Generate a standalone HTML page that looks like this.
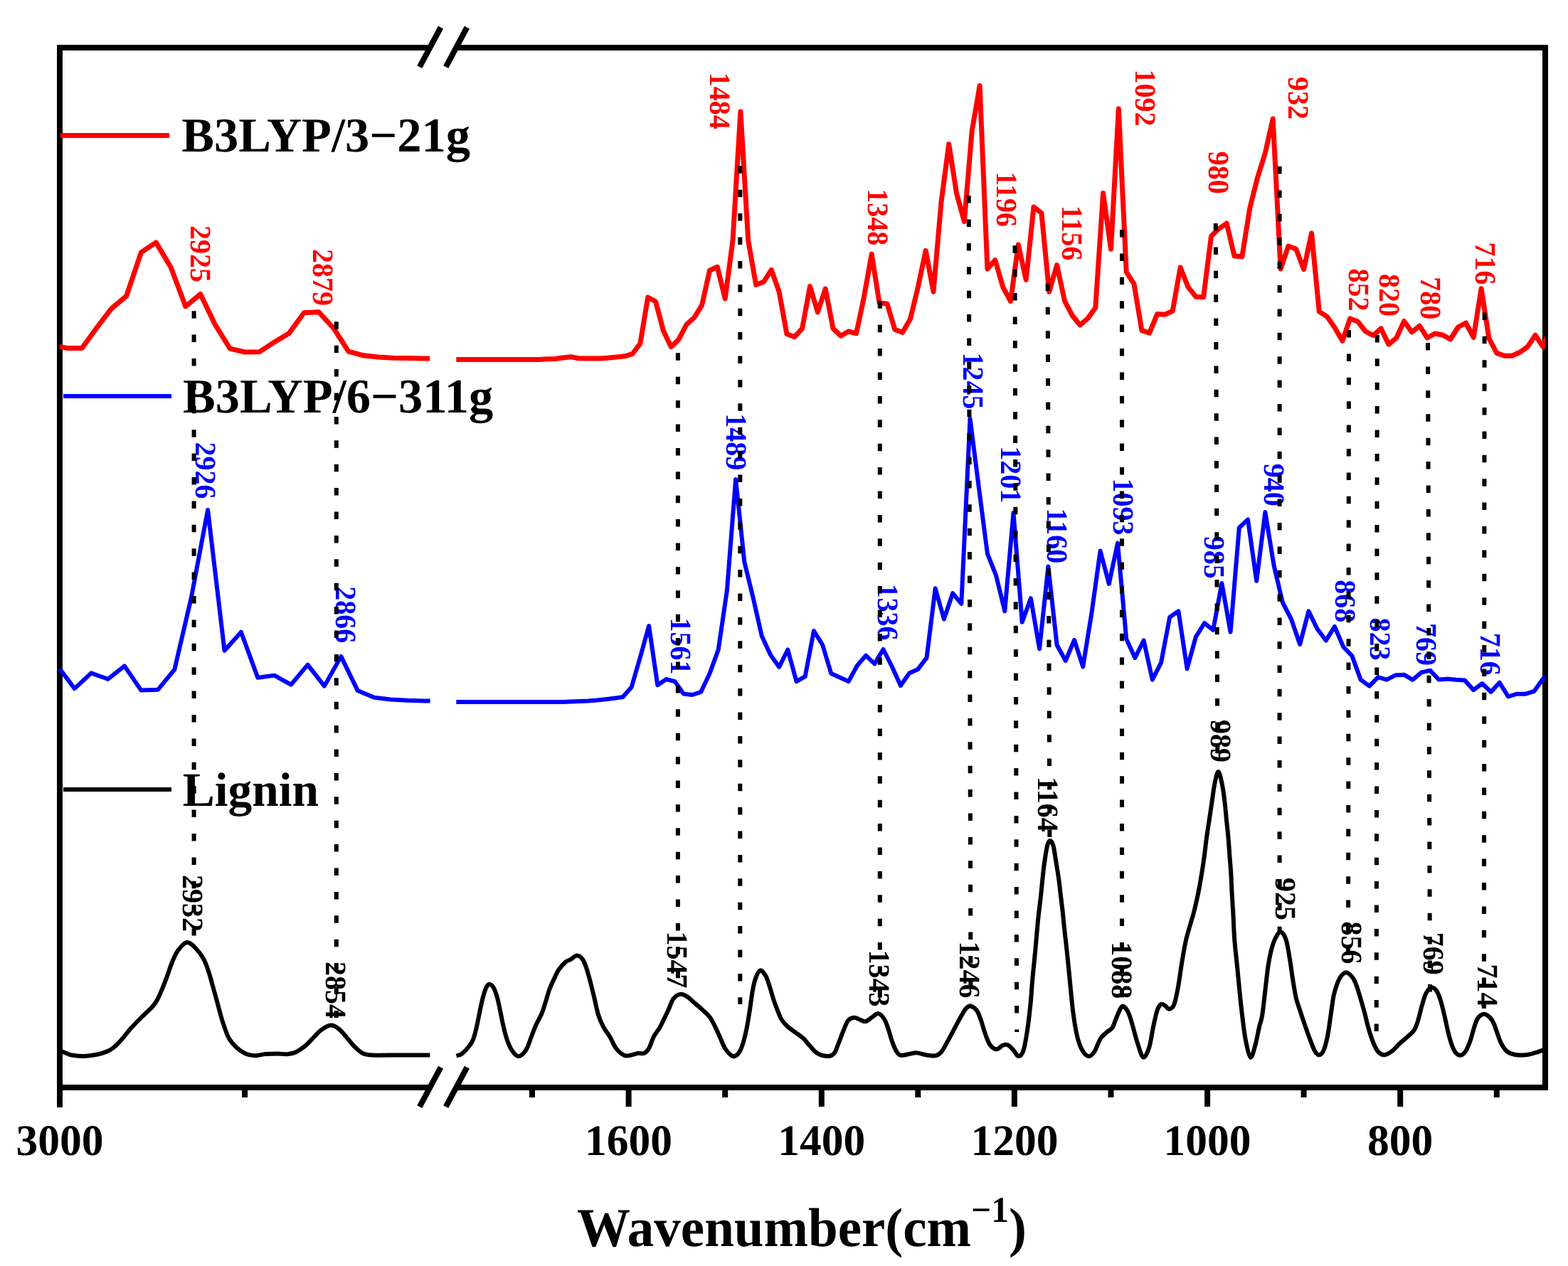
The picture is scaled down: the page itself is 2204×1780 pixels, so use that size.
<!DOCTYPE html>
<html><head><meta charset="utf-8"><style>html,body{margin:0;padding:0;background:#fff;}svg{display:block;}</style></head>
<body><svg xmlns="http://www.w3.org/2000/svg" width="2204" height="1780" viewBox="0 0 2204 1780" text-rendering="geometricPrecision">
<rect width="100%" height="100%" fill="#fff"/>
<defs><clipPath id="cr"><rect x="600" y="0" width="1572" height="1780"/></clipPath></defs>
<g stroke="#000" stroke-width="8" fill="none">
<path d="M84,63 V1533"/>
<path d="M2172,63 V1533"/>
<path d="M80,67 H604"/><path d="M641,67 H2176"/>
<path d="M80,1529 H604"/><path d="M641,1529 H2176"/>
<path d="M84,1533 V1557"/>
<path d="M344.1,1533 V1543"/>
<path d="M883.6,1533 V1556"/>
<path d="M1154.8,1533 V1556"/>
<path d="M1425.9,1533 V1556"/>
<path d="M1697.1,1533 V1556"/>
<path d="M1968.2,1533 V1556"/>
<path d="M748.0,1533 V1543"/>
<path d="M1019.2,1533 V1543"/>
<path d="M1290.3,1533 V1543"/>
<path d="M1561.5,1533 V1543"/>
<path d="M1832.6,1533 V1543"/>
<path d="M2103.8,1533 V1543"/>
</g>
<g stroke="#000" stroke-width="8" fill="none">
<path d="M589.8,94.1 L619.5,38.5"/>
<path d="M626.7,94.1 L656.4,38.5"/>
<path d="M589.8,1556.2 L619.5,1500.6"/>
<path d="M626.7,1556.2 L656.4,1500.6"/>
</g>
<polyline points="84.0,487.4 94.4,489.5 115.2,489.5 136.0,460.9 156.8,433.7 177.6,416.3 198.4,354.9 219.3,340.9 240.1,375.8 260.9,430.9 281.7,413.5 302.5,456.7 323.3,490.2 344.1,495.0 364.9,494.7 385.7,480.9 406.5,468.4 427.3,439.8 448.1,438.8 468.9,461.4 489.8,494.2 510.6,499.8 531.4,501.9 552.2,503.3 573.0,503.5 593.8,504.0 604.2,504.0" fill="none" stroke="#ff0000" stroke-width="7" stroke-linejoin="round" stroke-linecap="butt"/>
<polyline points="84.0,940.5 104.8,968.1 128.2,946.4 151.6,954.8 175.0,936.4 198.4,970.6 221.9,969.8 245.3,941.4 268.7,841.0 292.1,717.0 315.5,914.7 338.9,888.8 362.3,952.8 385.7,949.6 409.1,962.6 432.5,934.6 455.9,964.6 479.4,922.9 502.8,971.1 526.2,980.8 549.6,983.4 573.0,984.7 596.4,985.4 604.6,985.6" fill="none" stroke="#0000ff" stroke-width="6" stroke-linejoin="round" stroke-linecap="butt"/>
<path d="M84.0,1477.5 C84.6,1477.7 84.9,1477.6 87.7,1478.6 C90.5,1479.6 95.9,1482.5 100.9,1483.5 C105.9,1484.5 111.9,1485.0 117.7,1484.9 C123.5,1484.8 130.5,1483.8 135.8,1482.8 C141.2,1481.8 145.9,1480.2 149.8,1478.6 C153.8,1477.0 156.0,1475.8 159.5,1473.0 C163.0,1470.2 166.7,1466.3 170.7,1461.9 C174.7,1457.5 178.7,1451.7 183.3,1446.5 C188.0,1441.3 193.5,1435.6 198.6,1430.5 C203.7,1425.4 210.3,1419.9 214.0,1415.8 C217.7,1411.7 218.6,1410.2 220.9,1406.0 C223.2,1401.8 225.6,1396.3 227.9,1390.7 C230.2,1385.1 232.6,1378.9 234.9,1372.6 C237.2,1366.3 239.4,1359.0 241.9,1353.0 C244.4,1347.0 246.7,1341.0 250.2,1336.3 C253.7,1331.6 258.6,1325.6 262.8,1325.1 C267.0,1324.6 271.4,1329.5 275.3,1333.5 C279.2,1337.5 283.5,1343.2 286.5,1348.8 C289.5,1354.4 291.4,1360.7 293.5,1367.0 C295.6,1373.3 297.0,1379.1 299.1,1386.5 C301.2,1393.9 303.7,1403.2 306.0,1411.6 C308.3,1420.0 310.4,1428.8 313.0,1436.7 C315.6,1444.6 318.1,1453.0 321.4,1459.1 C324.7,1465.1 328.7,1469.3 332.6,1473.0 C336.6,1476.7 340.7,1479.5 345.1,1481.4 C349.5,1483.3 354.5,1484.1 359.1,1484.2 C363.8,1484.3 367.9,1482.5 373.0,1482.1 C378.1,1481.6 384.7,1481.5 390.0,1481.5 C395.3,1481.5 400.6,1482.5 404.9,1482.1 C409.2,1481.7 412.1,1481.2 416.0,1479.3 C419.9,1477.4 424.6,1474.2 428.6,1470.9 C432.6,1467.7 436.1,1463.5 439.8,1459.8 C443.5,1456.1 446.7,1451.6 450.9,1448.6 C455.1,1445.6 460.7,1441.9 464.9,1441.6 C469.1,1441.2 472.3,1443.7 476.0,1446.5 C479.7,1449.3 483.5,1454.2 487.2,1458.4 C490.9,1462.6 494.7,1467.9 498.4,1471.6 C502.1,1475.3 505.3,1478.7 509.5,1480.7 C513.7,1482.7 515.1,1483.0 523.5,1483.5 C531.9,1484.0 546.5,1483.5 560.0,1483.5 C573.5,1483.5 597.0,1483.5 604.4,1483.5" fill="none" stroke="#000" stroke-width="6" stroke-linejoin="round" stroke-linecap="butt"/>
<g clip-path="url(#cr)">
<polyline points="641.3,505.5 650.4,505.5 661.3,505.5 672.1,505.5 682.9,505.5 693.8,505.5 704.6,505.5 715.5,505.5 726.3,505.5 737.2,505.5 748.0,505.5 758.9,505.4 769.7,504.8 780.6,504.5 791.4,503.0 802.3,501.8 813.1,503.8 823.9,504.1 834.8,504.1 845.6,504.1 856.5,503.0 867.3,502.0 878.2,500.8 889.0,497.5 899.9,483.0 910.7,418.0 921.6,424.0 932.4,465.0 943.3,487.7 954.1,477.2 964.9,456.3 975.8,446.5 986.6,429.1 997.5,380.2 1008.3,375.3 1019.2,420.0 1030.0,338.0 1040.9,157.0 1051.7,338.0 1062.6,400.5 1073.4,396.3 1084.3,379.5 1095.1,410.2 1105.9,469.5 1116.8,473.7 1127.6,461.9 1138.5,402.6 1149.3,438.8 1160.2,406.0 1171.0,461.9 1181.9,472.3 1192.7,466.0 1203.6,468.8 1214.4,418.0 1225.2,357.2 1236.1,426.3 1246.9,427.0 1257.8,463.3 1268.6,467.4 1279.5,448.6 1290.3,404.0 1301.2,352.3 1312.0,410.2 1322.9,285.0 1333.7,202.6 1344.6,272.0 1355.4,311.5 1366.2,184.0 1377.1,120.5 1387.9,378.1 1398.8,365.6 1409.6,403.3 1420.5,423.5 1431.3,344.0 1442.2,393.5 1453.0,291.0 1463.9,299.5 1474.7,410.2 1485.6,372.6 1496.4,422.8 1507.2,443.7 1518.1,457.0 1528.9,447.9 1539.8,432.6 1550.6,271.6 1561.5,350.2 1572.3,153.0 1583.2,382.3 1594.0,399.1 1604.9,464.7 1615.7,468.1 1626.6,441.6 1637.4,442.3 1648.2,437.4 1659.1,376.0 1669.9,403.3 1680.8,417.2 1691.6,417.9 1702.5,332.1 1713.3,321.6 1724.2,314.0 1735.0,360.0 1745.9,360.7 1756.7,293.0 1767.5,250.0 1778.4,215.0 1789.2,167.0 1800.1,378.1 1810.9,346.0 1821.8,350.2 1832.6,378.8 1843.5,327.9 1854.3,438.1 1865.2,445.1 1876.0,460.5 1886.9,479.3 1897.7,447.9 1908.5,452.1 1919.4,466.0 1930.2,471.6 1941.1,461.9 1951.9,484.2 1962.8,475.1 1973.6,451.4 1984.5,467.0 1995.3,458.2 2006.2,475.0 2017.0,469.0 2027.9,471.0 2038.7,477.0 2049.5,460.0 2060.4,454.0 2071.2,474.4 2082.1,405.7 2092.9,475.6 2103.8,496.4 2114.6,500.2 2125.5,500.2 2136.3,495.3 2147.2,487.6 2158.0,471.2 2168.9,487.6 2179.7,462.0" fill="none" stroke="#ff0000" stroke-width="7" stroke-linejoin="round" stroke-linecap="butt"/>
<polyline points="641.3,987.0 643.6,987.0 655.8,987.0 668.0,987.0 680.2,987.0 692.4,987.0 704.6,987.0 716.8,987.0 729.0,987.0 741.2,987.0 753.4,987.0 765.6,987.0 777.9,987.0 790.1,987.0 802.3,986.5 814.5,986.0 826.7,985.5 838.9,984.5 851.1,983.2 863.3,981.7 875.5,980.0 887.7,966.0 899.9,924.0 912.1,880.0 924.3,963.3 936.5,955.0 948.7,958.1 960.9,975.6 973.1,977.0 985.3,972.8 997.5,947.0 1009.7,913.5 1021.9,830.0 1034.1,674.0 1046.3,790.0 1058.5,840.0 1070.7,894.0 1082.9,920.5 1095.1,937.9 1107.3,913.5 1119.5,958.1 1131.7,951.2 1143.9,887.0 1156.1,906.5 1168.3,947.0 1180.5,952.6 1192.7,958.1 1204.9,935.8 1217.1,921.6 1229.3,933.3 1241.5,913.0 1253.7,937.0 1265.9,964.0 1278.1,946.5 1290.3,940.9 1302.5,924.9 1314.7,827.2 1326.9,870.5 1339.1,834.2 1351.3,848.8 1363.5,588.5 1375.7,684.2 1387.9,778.4 1400.1,809.1 1412.3,859.3 1424.5,721.0 1436.7,874.7 1448.9,841.2 1461.1,912.3 1473.4,796.5 1485.6,906.7 1497.8,929.1 1510.0,899.8 1522.2,937.4 1534.4,862.0 1546.6,774.5 1558.8,820.9 1571.0,763.5 1583.2,898.4 1595.4,924.9 1607.6,900.5 1619.8,955.6 1632.0,931.9 1644.2,867.7 1656.4,859.3 1668.6,940.2 1680.8,895.6 1693.0,876.0 1705.2,885.8 1717.4,820.0 1729.6,888.6 1741.8,742.0 1754.0,730.5 1766.2,816.8 1778.4,720.0 1790.6,795.0 1802.8,847.0 1815.0,870.5 1827.2,906.0 1839.4,859.3 1851.6,884.4 1863.8,900.5 1876.0,880.9 1888.2,909.5 1900.4,922.1 1912.6,955.6 1924.8,964.6 1937.0,952.1 1949.2,955.6 1961.4,949.3 1973.6,948.7 1985.8,955.8 1998.0,945.4 2010.2,942.6 2022.4,955.5 2034.6,954.6 2046.8,955.8 2059.0,956.4 2071.2,970.2 2083.4,961.0 2095.6,972.9 2107.8,959.8 2120.0,979.5 2132.2,975.7 2144.4,975.7 2156.6,971.8 2168.9,954.3 2181.1,950.0" fill="none" stroke="#0000ff" stroke-width="6" stroke-linejoin="round" stroke-linecap="butt"/>
<path d="M641.4,1484.3 C642.6,1484.0 645.6,1484.2 648.4,1482.3 C651.2,1480.3 655.3,1476.1 658.1,1472.6 C660.9,1469.1 663.0,1466.8 665.1,1461.4 C667.2,1456.1 669.1,1447.5 670.7,1440.5 C672.3,1433.5 673.5,1426.0 674.9,1419.5 C676.3,1413.0 677.7,1406.5 679.1,1401.4 C680.5,1396.3 681.9,1391.7 683.3,1388.8 C684.7,1385.9 685.8,1384.2 687.4,1384.0 C689.0,1383.8 691.1,1384.5 693.0,1387.4 C694.9,1390.3 697.0,1396.1 698.6,1401.4 C700.2,1406.8 701.4,1413.0 702.8,1419.5 C704.2,1426.0 705.4,1433.5 707.0,1440.5 C708.6,1447.5 710.5,1455.4 712.6,1461.4 C714.7,1467.4 716.8,1472.8 719.5,1476.7 C722.2,1480.7 725.3,1485.1 728.6,1485.1 C731.9,1485.1 736.2,1480.9 739.1,1476.7 C742.0,1472.5 743.7,1465.8 746.0,1460.0 C748.3,1454.2 750.4,1447.7 753.0,1441.9 C755.6,1436.1 759.1,1430.7 761.4,1425.1 C763.7,1419.5 765.1,1414.2 767.0,1408.4 C768.9,1402.6 770.5,1395.8 772.6,1390.2 C774.7,1384.6 777.4,1379.3 779.5,1374.9 C781.6,1370.5 782.5,1367.4 785.1,1363.7 C787.7,1360.0 792.1,1355.0 794.9,1352.6 C797.7,1350.2 799.2,1350.6 801.9,1349.1 C804.6,1347.6 808.1,1343.6 810.9,1343.5 C813.7,1343.4 816.4,1345.5 818.6,1348.4 C820.8,1351.3 822.3,1355.6 824.2,1360.9 C826.1,1366.2 827.9,1373.5 829.8,1380.5 C831.6,1387.5 833.4,1395.1 835.3,1402.8 C837.1,1410.5 838.8,1419.8 840.9,1426.5 C843.0,1433.2 845.1,1438.0 847.9,1443.3 C850.7,1448.6 854.7,1453.5 857.7,1458.6 C860.7,1463.7 862.8,1469.8 866.0,1474.0 C869.2,1478.2 873.9,1482.1 877.2,1483.7 C880.5,1485.3 882.4,1484.2 885.6,1483.7 C888.9,1483.2 893.5,1481.4 896.7,1480.9 C900.0,1480.4 902.5,1482.1 905.1,1480.9 C907.7,1479.8 909.8,1478.0 912.1,1474.0 C914.4,1470.0 916.6,1462.0 919.1,1457.2 C921.6,1452.4 924.7,1449.4 927.2,1445.0 C929.7,1440.6 931.9,1435.7 934.2,1431.0 C936.5,1426.3 938.9,1421.2 940.9,1416.7 C942.9,1412.2 943.9,1407.3 946.5,1404.2 C949.1,1401.1 953.0,1398.4 956.3,1397.9 C959.5,1397.4 962.8,1399.4 966.0,1401.4 C969.2,1403.4 972.3,1406.8 975.8,1409.8 C979.3,1412.8 983.3,1416.0 987.0,1419.5 C990.7,1423.0 995.1,1426.7 998.1,1430.7 C1001.1,1434.7 1002.8,1438.7 1005.1,1443.3 C1007.4,1447.9 1009.8,1453.5 1012.1,1458.6 C1014.4,1463.7 1016.5,1469.8 1019.1,1474.0 C1021.7,1478.2 1025.1,1481.9 1027.4,1483.7 C1029.7,1485.5 1030.9,1486.0 1033.0,1485.1 C1035.1,1484.2 1037.9,1481.8 1040.0,1478.1 C1042.1,1474.4 1044.0,1468.4 1045.6,1462.8 C1047.2,1457.2 1048.4,1451.8 1049.8,1444.6 C1051.2,1437.4 1052.6,1428.3 1054.0,1419.5 C1055.4,1410.7 1056.7,1399.0 1058.1,1391.6 C1059.5,1384.2 1060.5,1379.4 1062.3,1374.9 C1064.0,1370.4 1066.3,1364.9 1068.6,1364.4 C1070.9,1363.9 1074.1,1368.3 1076.3,1372.1 C1078.5,1375.9 1080.1,1381.8 1081.9,1387.4 C1083.8,1393.0 1085.6,1400.0 1087.4,1405.6 C1089.2,1411.2 1091.1,1416.2 1093.0,1420.9 C1094.9,1425.6 1096.3,1429.8 1098.6,1433.5 C1100.9,1437.2 1103.8,1440.3 1107.0,1443.3 C1110.2,1446.3 1114.4,1448.8 1118.1,1451.6 C1121.8,1454.4 1126.0,1457.0 1129.3,1460.0 C1132.6,1463.0 1134.5,1466.3 1137.7,1469.8 C1141.0,1473.3 1144.4,1478.4 1148.8,1480.9 C1153.2,1483.5 1160.2,1485.1 1164.2,1485.1 C1168.2,1485.1 1170.3,1483.7 1172.6,1480.9 C1174.9,1478.1 1176.0,1473.5 1178.1,1468.4 C1180.2,1463.3 1182.8,1455.8 1185.1,1450.2 C1187.4,1444.6 1189.5,1438.2 1192.1,1434.9 C1194.7,1431.7 1197.8,1430.9 1200.5,1430.7 C1203.2,1430.5 1205.7,1432.6 1208.4,1433.5 C1211.1,1434.4 1213.9,1436.8 1216.7,1436.3 C1219.5,1435.8 1222.1,1432.6 1225.1,1430.7 C1228.1,1428.8 1231.9,1424.6 1234.9,1425.1 C1237.9,1425.6 1241.0,1429.8 1243.3,1433.5 C1245.6,1437.2 1246.9,1442.1 1248.8,1447.4 C1250.7,1452.8 1252.5,1460.5 1254.4,1465.6 C1256.3,1470.7 1258.1,1475.1 1260.0,1478.1 C1261.9,1481.1 1262.8,1483.0 1265.6,1483.7 C1268.4,1484.4 1273.0,1482.9 1276.7,1482.3 C1280.4,1481.7 1283.9,1480.1 1287.9,1480.2 C1291.9,1480.3 1296.1,1482.3 1300.5,1483.0 C1304.9,1483.7 1310.7,1485.0 1314.4,1484.4 C1318.1,1483.8 1320.0,1482.6 1322.8,1479.5 C1325.6,1476.4 1328.2,1470.9 1331.2,1465.6 C1334.2,1460.2 1337.7,1453.5 1340.9,1447.4 C1344.2,1441.4 1347.9,1434.2 1350.7,1429.3 C1353.5,1424.4 1355.4,1420.5 1357.7,1418.1 C1360.0,1415.7 1362.2,1414.2 1364.7,1414.7 C1367.2,1415.2 1370.7,1417.8 1373.0,1420.9 C1375.3,1424.0 1376.7,1428.4 1378.6,1433.5 C1380.5,1438.6 1382.1,1445.8 1384.2,1451.6 C1386.3,1457.4 1388.4,1464.5 1391.2,1468.4 C1394.0,1472.4 1397.9,1475.1 1400.9,1475.3 C1403.9,1475.5 1406.7,1470.8 1409.3,1469.8 C1411.9,1468.8 1413.7,1467.9 1416.3,1469.1 C1418.9,1470.2 1422.2,1474.0 1424.7,1476.7 C1427.2,1479.4 1429.3,1485.1 1431.6,1485.1 C1433.9,1485.1 1436.5,1483.0 1438.6,1476.7 C1440.7,1470.4 1442.6,1458.1 1444.2,1447.4 C1445.8,1436.7 1447.2,1424.2 1448.4,1412.6 C1449.6,1401.0 1450.1,1390.5 1451.2,1377.7 C1452.3,1364.9 1454.0,1349.8 1455.3,1335.8 C1456.6,1321.8 1457.9,1305.0 1459.0,1294.0 C1460.1,1283.0 1461.1,1276.2 1461.8,1270.0 C1462.5,1263.8 1462.7,1263.0 1463.3,1257.0 C1463.9,1251.0 1464.8,1241.5 1465.6,1233.7 C1466.4,1226.0 1467.3,1217.9 1468.4,1210.5 C1469.5,1203.1 1470.9,1193.8 1472.1,1189.1 C1473.3,1184.4 1474.4,1182.1 1475.8,1182.1 C1477.2,1182.1 1479.1,1184.4 1480.5,1189.1 C1481.9,1193.8 1483.0,1203.1 1484.2,1210.5 C1485.4,1217.9 1486.8,1226.0 1487.9,1233.7 C1489.0,1241.5 1489.8,1249.2 1490.7,1257.0 C1491.6,1264.8 1492.6,1272.2 1493.5,1280.2 C1494.4,1288.2 1495.0,1295.7 1496.0,1305.0 C1497.0,1314.3 1498.2,1323.7 1499.5,1335.8 C1500.8,1347.9 1502.3,1363.8 1503.7,1377.7 C1505.1,1391.7 1506.3,1406.7 1507.9,1419.5 C1509.5,1432.3 1511.4,1445.1 1513.5,1454.4 C1515.6,1463.7 1517.7,1470.2 1520.5,1475.3 C1523.3,1480.4 1527.2,1484.6 1530.2,1485.1 C1533.2,1485.6 1535.8,1482.3 1538.6,1478.1 C1541.4,1473.9 1544.2,1464.4 1547.0,1460.0 C1549.8,1455.6 1552.5,1454.2 1555.3,1451.6 C1558.1,1449.0 1561.4,1448.1 1563.7,1444.6 C1566.0,1441.1 1567.4,1435.1 1569.3,1430.7 C1571.2,1426.3 1573.3,1420.8 1574.9,1418.1 C1576.5,1415.4 1577.2,1413.8 1579.1,1414.7 C1580.9,1415.6 1583.9,1419.4 1586.0,1423.7 C1588.1,1428.0 1589.5,1433.5 1591.6,1440.5 C1593.7,1447.5 1596.0,1457.9 1598.6,1465.6 C1601.2,1473.3 1604.2,1485.3 1607.0,1486.5 C1609.8,1487.7 1613.0,1479.6 1615.3,1472.6 C1617.6,1465.6 1619.0,1453.2 1620.9,1444.6 C1622.8,1436.0 1624.6,1426.4 1626.5,1420.9 C1628.4,1415.5 1630.2,1413.1 1632.1,1411.9 C1634.0,1410.8 1635.8,1412.8 1637.7,1414.0 C1639.6,1415.2 1641.2,1419.0 1643.3,1418.8 C1645.4,1418.6 1648.1,1417.6 1650.2,1412.6 C1652.3,1407.6 1653.9,1398.8 1655.8,1388.8 C1657.7,1378.8 1659.5,1363.8 1661.4,1352.6 C1663.3,1341.4 1664.9,1331.2 1667.0,1321.9 C1669.1,1312.6 1672.2,1303.2 1674.0,1296.7 C1675.8,1290.2 1676.2,1290.2 1678.0,1283.0 C1679.8,1275.8 1682.8,1262.9 1684.6,1253.8 C1686.4,1244.7 1687.7,1236.9 1689.1,1228.4 C1690.5,1220.0 1691.8,1211.5 1692.9,1203.1 C1694.1,1194.6 1694.8,1186.2 1696.0,1177.7 C1697.2,1169.2 1698.5,1160.9 1699.8,1152.4 C1701.1,1144.0 1702.3,1135.5 1703.6,1127.0 C1704.9,1118.5 1705.9,1108.7 1707.4,1101.7 C1708.9,1094.7 1710.8,1085.0 1712.5,1085.0 C1714.2,1085.0 1716.1,1094.7 1717.6,1101.7 C1719.1,1108.7 1720.4,1118.5 1721.4,1127.0 C1722.5,1135.5 1723.1,1144.0 1723.9,1152.4 C1724.8,1160.9 1725.8,1169.2 1726.5,1177.7 C1727.2,1186.2 1727.8,1194.6 1728.4,1203.1 C1729.0,1211.5 1729.8,1220.0 1730.3,1228.4 C1730.8,1236.9 1731.0,1244.3 1731.5,1253.8 C1732.0,1263.3 1732.8,1274.1 1733.4,1285.4 C1734.0,1296.8 1734.3,1308.9 1735.3,1321.9 C1736.3,1335.0 1737.9,1347.4 1739.5,1363.7 C1741.1,1380.0 1743.2,1403.2 1745.1,1419.5 C1747.0,1435.8 1748.6,1450.2 1750.7,1461.4 C1752.8,1472.6 1755.4,1485.3 1757.7,1486.5 C1760.0,1487.7 1762.7,1475.5 1764.7,1468.4 C1766.8,1461.3 1768.4,1450.8 1770.0,1444.0 C1771.6,1437.2 1772.8,1436.0 1774.2,1427.4 C1775.6,1418.8 1777.0,1404.2 1778.4,1392.6 C1779.8,1381.0 1781.2,1367.0 1782.6,1357.7 C1784.0,1348.4 1785.1,1343.0 1786.7,1336.7 C1788.3,1330.4 1790.1,1324.4 1792.3,1320.0 C1794.5,1315.6 1797.4,1310.0 1800.0,1310.2 C1802.6,1310.4 1805.5,1314.7 1807.7,1321.4 C1809.9,1328.2 1811.7,1341.2 1813.3,1350.7 C1814.9,1360.2 1816.0,1370.0 1817.4,1378.6 C1818.8,1387.2 1820.0,1395.3 1821.6,1402.3 C1823.2,1409.3 1825.1,1414.0 1827.2,1420.5 C1829.3,1427.0 1831.9,1434.7 1834.2,1441.4 C1836.5,1448.1 1838.9,1454.9 1841.2,1460.9 C1843.5,1467.0 1845.9,1474.0 1848.1,1477.7 C1850.3,1481.4 1852.3,1483.5 1854.4,1483.3 C1856.5,1483.1 1858.7,1481.0 1860.7,1476.3 C1862.7,1471.6 1864.7,1463.4 1866.3,1455.3 C1867.9,1447.2 1869.1,1436.7 1870.5,1427.4 C1871.9,1418.1 1873.1,1407.2 1874.7,1399.5 C1876.3,1391.8 1878.4,1386.1 1880.2,1381.4 C1882.0,1376.8 1883.7,1373.9 1885.8,1371.6 C1887.9,1369.3 1890.2,1366.9 1892.8,1367.4 C1895.4,1367.9 1898.9,1371.4 1901.2,1374.4 C1903.5,1377.4 1904.9,1380.7 1906.7,1385.6 C1908.5,1390.5 1910.4,1397.4 1912.3,1403.7 C1914.2,1410.0 1916.0,1416.3 1917.9,1423.3 C1919.8,1430.3 1921.4,1438.4 1923.5,1445.6 C1925.6,1452.8 1928.2,1460.9 1930.5,1466.5 C1932.8,1472.1 1934.9,1476.3 1937.4,1479.1 C1940.0,1481.9 1942.5,1483.5 1945.8,1483.3 C1949.1,1483.1 1953.3,1480.5 1957.0,1477.7 C1960.7,1474.9 1964.6,1469.8 1968.1,1466.5 C1971.6,1463.2 1974.6,1461.1 1977.9,1458.1 C1981.2,1455.1 1985.1,1452.4 1987.7,1448.4 C1990.3,1444.5 1991.5,1440.2 1993.3,1434.4 C1995.1,1428.6 1996.9,1419.8 1998.8,1413.5 C2000.7,1407.2 2002.2,1400.9 2004.4,1396.7 C2006.6,1392.5 2009.5,1388.9 2012.1,1388.4 C2014.7,1388.0 2017.6,1390.8 2019.8,1394.0 C2022.0,1397.2 2023.5,1402.1 2025.3,1407.9 C2027.1,1413.7 2028.9,1421.7 2030.6,1429.0 C2032.3,1436.3 2033.9,1445.0 2035.6,1451.7 C2037.3,1458.4 2039.0,1464.6 2040.7,1469.3 C2042.4,1474.0 2043.8,1477.3 2045.9,1479.7 C2048.0,1482.1 2050.8,1484.2 2053.2,1483.8 C2055.6,1483.4 2058.2,1481.0 2060.4,1477.6 C2062.7,1474.1 2064.8,1468.4 2066.7,1463.1 C2068.6,1457.8 2070.1,1450.7 2071.8,1445.5 C2073.5,1440.3 2074.7,1435.3 2077.0,1432.0 C2079.3,1428.7 2082.9,1426.0 2085.8,1425.8 C2088.8,1425.6 2092.4,1428.8 2094.7,1431.0 C2097.0,1433.2 2098.1,1435.4 2099.8,1439.2 C2101.5,1443.0 2103.3,1449.1 2105.0,1453.8 C2106.7,1458.5 2108.1,1463.2 2110.2,1467.2 C2112.3,1471.2 2114.4,1475.0 2117.5,1477.6 C2120.6,1480.2 2124.4,1481.8 2128.9,1482.8 C2133.4,1483.8 2139.6,1483.7 2144.4,1483.3 C2149.2,1482.9 2153.9,1481.3 2157.9,1480.2 C2161.9,1479.1 2165.3,1477.6 2168.3,1476.6 C2171.3,1475.6 2174.7,1474.4 2176.0,1474.0" fill="none" stroke="#000" stroke-width="6" stroke-linejoin="round" stroke-linecap="butt"/>
</g>
<text transform="translate(268.1,316.9) rotate(90) scale(1,1.04)" font-family="Liberation Serif, serif" font-weight="bold" font-size="40" fill="#ff0000">2925</text>
<text transform="translate(439.9,350.1) rotate(90) scale(1,1.04)" font-family="Liberation Serif, serif" font-weight="bold" font-size="40" fill="#ff0000">2879</text>
<text transform="translate(998.4,101.7) rotate(90) scale(1,1.04)" font-family="Liberation Serif, serif" font-weight="bold" font-size="40" fill="#ff0000">1484</text>
<text transform="translate(1219.9,265.2) rotate(90) scale(1,1.04)" font-family="Liberation Serif, serif" font-weight="bold" font-size="40" fill="#ff0000">1348</text>
<text transform="translate(1401.1,241.2) rotate(90) scale(1,1.04)" font-family="Liberation Serif, serif" font-weight="bold" font-size="40" fill="#ff0000">1196</text>
<text transform="translate(1492.5,288.7) rotate(90) scale(1,1.04)" font-family="Liberation Serif, serif" font-weight="bold" font-size="40" fill="#ff0000">1156</text>
<text transform="translate(1596.2,97.5) rotate(90) scale(1,1.04)" font-family="Liberation Serif, serif" font-weight="bold" font-size="40" fill="#ff0000">1092</text>
<text transform="translate(1699.4,212.7) rotate(90) scale(1,1.04)" font-family="Liberation Serif, serif" font-weight="bold" font-size="40" fill="#ff0000">980</text>
<text transform="translate(1811.2,107.9) rotate(90) scale(1,1.04)" font-family="Liberation Serif, serif" font-weight="bold" font-size="40" fill="#ff0000">932</text>
<text transform="translate(1895.7,377.4) rotate(90) scale(1,1.04)" font-family="Liberation Serif, serif" font-weight="bold" font-size="40" fill="#ff0000">852</text>
<text transform="translate(1939.0,385.1) rotate(90) scale(1,1.04)" font-family="Liberation Serif, serif" font-weight="bold" font-size="40" fill="#ff0000">820</text>
<text transform="translate(1996.9,389.2) rotate(90) scale(1,1.04)" font-family="Liberation Serif, serif" font-weight="bold" font-size="40" fill="#ff0000">780</text>
<text transform="translate(2074.0,340.4) rotate(90) scale(1,1.04)" font-family="Liberation Serif, serif" font-weight="bold" font-size="40" fill="#ff0000">716</text>
<text transform="translate(275.2,621.5) rotate(90) scale(1,1.04)" font-family="Liberation Serif, serif" font-weight="bold" font-size="40" fill="#0000ff">2926</text>
<text transform="translate(471.7,824.3) rotate(90) scale(1,1.04)" font-family="Liberation Serif, serif" font-weight="bold" font-size="40" fill="#0000ff">2866</text>
<text transform="translate(942.7,868.4) rotate(90) scale(1,1.04)" font-family="Liberation Serif, serif" font-weight="bold" font-size="40" fill="#0000ff">1561</text>
<text transform="translate(1020.9,581.2) rotate(90) scale(1,1.04)" font-family="Liberation Serif, serif" font-weight="bold" font-size="40" fill="#0000ff">1489</text>
<text transform="translate(1234.1,820.5) rotate(90) scale(1,1.04)" font-family="Liberation Serif, serif" font-weight="bold" font-size="40" fill="#0000ff">1336</text>
<text transform="translate(1354.2,495.6) rotate(90) scale(1,1.04)" font-family="Liberation Serif, serif" font-weight="bold" font-size="40" fill="#0000ff">1245</text>
<text transform="translate(1407.1,627.3) rotate(90) scale(1,1.04)" font-family="Liberation Serif, serif" font-weight="bold" font-size="40" fill="#0000ff">1201</text>
<text transform="translate(1472.0,714.5) rotate(90) scale(1,1.04)" font-family="Liberation Serif, serif" font-weight="bold" font-size="40" fill="#0000ff">1160</text>
<text transform="translate(1565.3,672.6) rotate(90) scale(1,1.04)" font-family="Liberation Serif, serif" font-weight="bold" font-size="40" fill="#0000ff">1093</text>
<text transform="translate(1693.2,753.7) rotate(90) scale(1,1.04)" font-family="Liberation Serif, serif" font-weight="bold" font-size="40" fill="#0000ff">985</text>
<text transform="translate(1777.4,651.8) rotate(90) scale(1,1.04)" font-family="Liberation Serif, serif" font-weight="bold" font-size="40" fill="#0000ff">940</text>
<text transform="translate(1876.9,815.3) rotate(90) scale(1,1.04)" font-family="Liberation Serif, serif" font-weight="bold" font-size="40" fill="#0000ff">868</text>
<text transform="translate(1926.4,868.4) rotate(90) scale(1,1.04)" font-family="Liberation Serif, serif" font-weight="bold" font-size="40" fill="#0000ff">823</text>
<text transform="translate(1991.3,875.9) rotate(90) scale(1,1.04)" font-family="Liberation Serif, serif" font-weight="bold" font-size="40" fill="#0000ff">769</text>
<text transform="translate(2081.4,889.7) rotate(90) scale(1,1.04)" font-family="Liberation Serif, serif" font-weight="bold" font-size="40" fill="#0000ff">716</text>
<text transform="translate(256.9,1229.9) rotate(90) scale(1,1.04)" font-family="Liberation Serif, serif" font-weight="bold" font-size="40" fill="#000000">2932</text>
<text transform="translate(457.6,1352.1) rotate(90) scale(1,1.04)" font-family="Liberation Serif, serif" font-weight="bold" font-size="40" fill="#000000">2854</text>
<text transform="translate(937.8,1309.6) rotate(90) scale(1,1.04)" font-family="Liberation Serif, serif" font-weight="bold" font-size="40" fill="#000000">1547</text>
<text transform="translate(1222.0,1335.4) rotate(90) scale(1,1.04)" font-family="Liberation Serif, serif" font-weight="bold" font-size="40" fill="#000000">1343</text>
<text transform="translate(1349.0,1323.5) rotate(90) scale(1,1.04)" font-family="Liberation Serif, serif" font-weight="bold" font-size="40" fill="#000000">1246</text>
<text transform="translate(1459.4,1092.0) rotate(90) scale(1,1.04)" font-family="Liberation Serif, serif" font-weight="bold" font-size="40" fill="#000000">1164</text>
<text transform="translate(1563.4,1324.2) rotate(90) scale(1,1.04)" font-family="Liberation Serif, serif" font-weight="bold" font-size="40" fill="#000000">1088</text>
<text transform="translate(1702.1,1012.1) rotate(90) scale(1,1.04)" font-family="Liberation Serif, serif" font-weight="bold" font-size="40" fill="#000000">989</text>
<text transform="translate(1793.2,1233.9) rotate(90) scale(1,1.04)" font-family="Liberation Serif, serif" font-weight="bold" font-size="40" fill="#000000">925</text>
<text transform="translate(1886.2,1295.6) rotate(90) scale(1,1.04)" font-family="Liberation Serif, serif" font-weight="bold" font-size="40" fill="#000000">856</text>
<text transform="translate(2001.3,1310.8) rotate(90) scale(1,1.04)" font-family="Liberation Serif, serif" font-weight="bold" font-size="40" fill="#000000">769</text>
<text transform="translate(2077.4,1355.6) rotate(90) scale(1,1.04)" font-family="Liberation Serif, serif" font-weight="bold" font-size="40" fill="#000000">714</text>
<line x1="272.6" y1="437.2" x2="272.6" y2="1315.5" stroke="#000" stroke-width="6" stroke-dasharray="10.5 22.9"/>
<line x1="472.8" y1="452.3" x2="472.8" y2="1431" stroke="#000" stroke-width="6" stroke-dasharray="10.5 22.9"/>
<line x1="952.9" y1="496.3" x2="952.9" y2="1390" stroke="#000" stroke-width="6" stroke-dasharray="10.5 22.9"/>
<line x1="1040.3" y1="233.3" x2="1040.3" y2="1412" stroke="#000" stroke-width="6" stroke-dasharray="10.5 22.9"/>
<line x1="1236.8" y1="423.3" x2="1236.8" y2="1416" stroke="#000" stroke-width="6" stroke-dasharray="10.5 22.9"/>
<line x1="1361.7" y1="275.1" x2="1364.5" y2="1411" stroke="#000" stroke-width="6" stroke-dasharray="10.5 22.9"/>
<line x1="1426.5" y1="345.3" x2="1429.2" y2="1451" stroke="#000" stroke-width="6" stroke-dasharray="10.5 22.9"/>
<line x1="1472.6" y1="398.4" x2="1475.4" y2="1177" stroke="#000" stroke-width="6" stroke-dasharray="10.5 22.9"/>
<line x1="1577" y1="323" x2="1577" y2="1405" stroke="#000" stroke-width="6" stroke-dasharray="10.5 22.9"/>
<line x1="1708.8" y1="314" x2="1711.4" y2="1081" stroke="#000" stroke-width="6" stroke-dasharray="10.5 22.9"/>
<line x1="1798.6" y1="234" x2="1798.6" y2="1312" stroke="#000" stroke-width="6" stroke-dasharray="10.5 22.9"/>
<line x1="1896" y1="464" x2="1895" y2="1357" stroke="#000" stroke-width="6" stroke-dasharray="10.5 22.9"/>
<line x1="1935.8" y1="470.9" x2="1934.7" y2="1450" stroke="#000" stroke-width="6" stroke-dasharray="10.5 22.9"/>
<line x1="2007" y1="482.1" x2="2010" y2="1395" stroke="#000" stroke-width="6" stroke-dasharray="10.5 22.9"/>
<line x1="2086.6" y1="439.4" x2="2085.9" y2="1418" stroke="#000" stroke-width="6" stroke-dasharray="10.5 22.9"/>
<g font-family="Liberation Serif, serif" font-weight="bold" font-size="61.5" text-anchor="middle" fill="#000">
<text x="84" y="1623.6">3000</text>
<text x="883.6" y="1623.6">1600</text>
<text x="1154.8" y="1623.6">1400</text>
<text x="1425.9" y="1623.6">1200</text>
<text x="1697.1" y="1623.6">1000</text>
<text x="1968.2" y="1623.6">800</text>
</g>
<g stroke-width="6" fill="none">
<path d="M85,190.5 H238" stroke="#ff0000" stroke-width="7"/>
<path d="M89,557 H241" stroke="#0000ff"/>
<path d="M89,1110 H241" stroke="#000"/>
</g>
<g font-family="Liberation Serif, serif" font-weight="bold" font-size="68.5" fill="#000">
<text x="255.3" y="213.3">B3LYP/3−21g</text>
<text x="257" y="580.4">B3LYP/6−311g</text>
<text x="256.8" y="1132.7" font-size="67.5">Lignin</text>
</g>
<text transform="translate(811,1752.3) scale(1,1.03)" font-family="Liberation Serif, serif" font-weight="bold" font-size="75" fill="#000">Wavenumber(cm<tspan font-size="49.5" dy="-33">−1</tspan><tspan dy="33">)</tspan></text>
</svg></body></html>
